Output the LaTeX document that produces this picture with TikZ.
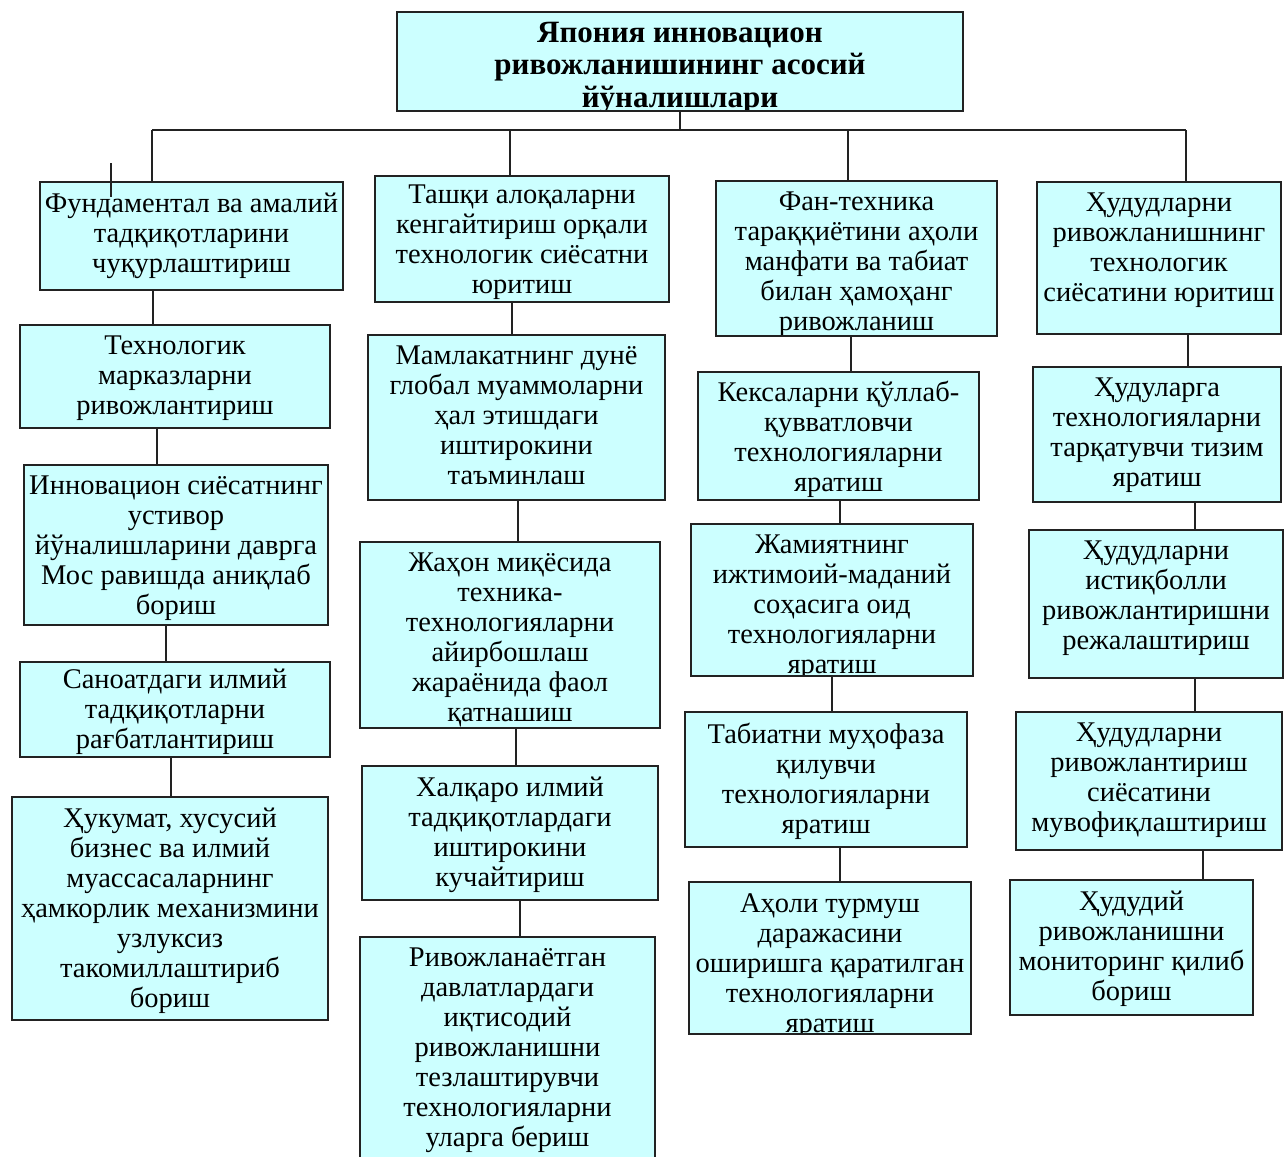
\documentclass[tikz,border=0pt]{standalone}
\usepackage{fontspec}
\setmainfont{Liberation Serif}
\definecolor{boxfill}{HTML}{CCFFFF}
\definecolor{lin}{HTML}{222222}
\newcommand{\cbox}[8][txt]{%
  \node[boxst, minimum width={(#5-#3)*1pt}, minimum height={(#6-#4)*1pt}] (#2) at ({(#3+#5)/2},{(#4+#6)/2}) {};
  \begin{scope}
    \clip (#2.north west) rectangle (#2.south east);
    \node[#1, anchor=north] (#2t) at ([yshift=-#7pt]#2.north) {#8};
  \end{scope}
  \draw[frame] (#2.north west) rectangle (#2.south east);
}
\newcommand{\lnk}[3]{\draw[link] (#3,0 |- #1.south) -- (#3,0 |- #2.north);}
\begin{document}
\begin{tikzpicture}[x=1pt,y=-1pt,
  boxst/.style={draw=none, fill=boxfill, inner sep=0pt, outer sep=0pt},
  txt/.style={align=center, inner sep=0pt, font=\fontsize{28.5}{30}\selectfont},
  ttl/.style={align=center, inner sep=0pt, font=\fontsize{31}{32.5}\selectfont\bfseries},
  frame/.style={draw=lin, line width=1.6pt},
  link/.style={draw=lin, line width=1.6pt}]
\clip (0,0) rectangle (1284,1156);
\fill[white] (0,0) rectangle (1284,1156);

% title
\cbox[ttl]{T}{397}{12}{963}{111}{10}{Япония инновацион\\ривожланишининг асосий\\йўналишлари}

% bus
\coordinate (bL) at (152,130);
\coordinate (bB) at (510,130);
\coordinate (bC) at (848,130);
\coordinate (bR) at (1186,130);
\draw[link] (T.south) -- (T.south |- bL);
\draw[link] (bL) -- (bR);

% column A
\cbox{A1}{40}{182}{343}{290}{11}{Фундаментал ва амалий\\тадқиқотларини\\чуқурлаштириш}
\cbox{A2}{20}{325}{330}{428}{11}{Технологик\\марказларни\\ривожлантириш}
\cbox{A3}{24}{465}{328}{625}{11}{Инновацион сиёсатнинг\\устивор\\йўналишларини даврга\\Мос равишда аниқлаб\\бориш}
\cbox{A4}{20}{662}{330}{757}{7}{Саноатдаги илмий\\тадқиқотларни\\рағбатлантириш}
\cbox{A5}{12}{797}{328}{1020}{11}{Ҳукумат, хусусий\\бизнес ва илмий\\муассасаларнинг\\ҳамкорлик механизмини\\узлуксиз\\такомиллаштириб\\бориш}

% column B
\cbox{B1}{375}{176}{669}{302}{9}{Ташқи алоқаларни\\кенгайтириш орқали\\технологик сиёсатни\\юритиш}
\cbox{B2}{368}{335}{665}{500}{11}{Мамлакатнинг дунё\\глобал муаммоларни\\ҳал этишдаги\\иштирокини\\таъминлаш}
\cbox{B3}{360}{542}{660}{728}{11}{Жаҳон миқёсида\\техника-\\технологияларни\\айирбошлаш\\жараёнида фаол\\қатнашиш}
\cbox{B4}{362}{766}{658}{900}{11}{Халқаро илмий\\тадқиқотлардаги\\иштирокини\\кучайтириш}
\cbox{B5}{360}{937}{655}{1170}{11}{Ривожланаётган\\давлатлардаги\\иқтисодий\\ривожланишни\\тезлаштирувчи\\технологияларни\\уларга бериш}

% column C
\cbox{C1}{716}{181}{997}{336}{11}{Фан-техника\\тараққиётини аҳоли\\манфати ва табиат\\билан ҳамоҳанг\\ривожланиш}
\cbox{C2}{698}{372}{979}{500}{9}{Кексаларни қўллаб-\\қувватловчи\\технологияларни\\яратиш}
\cbox{C3}{691}{524}{973}{676}{11}{Жамиятнинг\\ижтимоий-маданий\\соҳасига оид\\технологияларни\\яратиш}
\cbox{C4}{685}{712}{967}{847}{11}{Табиатни муҳофаза\\қилувчи\\технологияларни\\яратиш}
\cbox{C5}{689}{882}{971}{1034}{11}{Аҳоли турмуш\\даражасини\\оширишга қаратилган\\технологияларни\\яратиш}

% column D
\cbox{D1}{1037}{182}{1281}{334}{11}{Ҳудудларни\\ривожланишнинг\\технологик\\сиёсатини юритиш}
\cbox{D2}{1033}{367}{1281}{502}{11}{Ҳудуларга\\технологияларни\\тарқатувчи тизим\\яратиш}
\cbox{D3}{1029}{530}{1283}{678}{11}{Ҳудудларни\\истиқболли\\ривожлантиришни\\режалаштириш}
\cbox{D4}{1016}{712}{1282}{850}{11}{Ҳудудларни\\ривожлантириш\\сиёсатини\\мувофиқлаштириш}
\cbox{D5}{1010}{880}{1253}{1015}{11}{Ҳудудий\\ривожланишни\\мониторинг қилиб\\бориш}

% bus taps
\draw[link] (bL) -- (bL |- A1.north);
\draw[link] (bB) -- (bB |- B1.north);
\draw[link] (bC) -- (bC |- C1.north);
\draw[link] (bR) -- (bR |- D1.north);

% column links
\lnk{A1}{A2}{153}
\lnk{A2}{A3}{157}
\lnk{A3}{A4}{166}
\lnk{A4}{A5}{171}
\lnk{B1}{B2}{512}
\lnk{B2}{B3}{518}
\lnk{B3}{B4}{516}
\lnk{B4}{B5}{520}
\lnk{C1}{C2}{851}
\lnk{C2}{C3}{840}
\lnk{C3}{C4}{832}
\lnk{C4}{C5}{840}
\lnk{D1}{D2}{1188}
\lnk{D2}{D3}{1195}
\lnk{D3}{D4}{1195}
\lnk{D4}{D5}{1203}

% stray tick
\coordinate (tk1) at (111,163);
\coordinate (tk2) at (111,197);
\draw[link] (tk1) -- (tk2);
\end{tikzpicture}
\end{document}
